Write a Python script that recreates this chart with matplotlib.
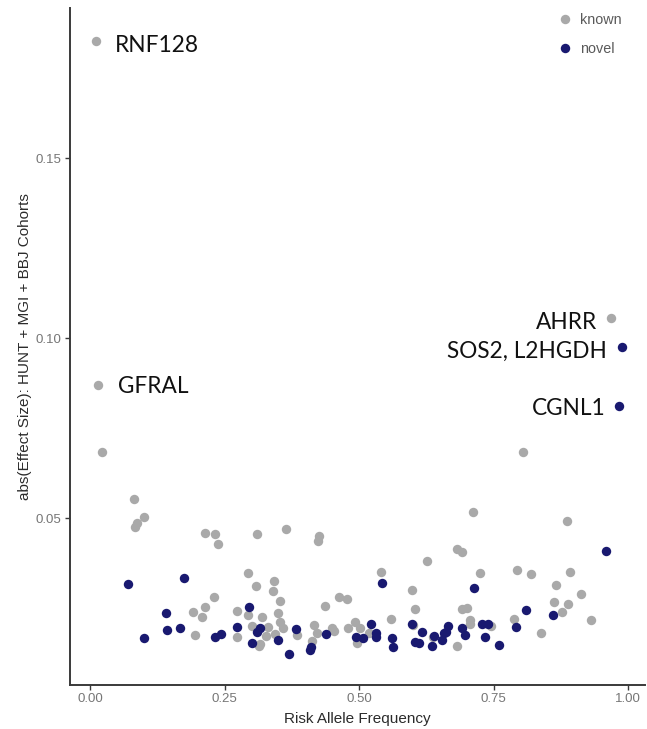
import matplotlib
matplotlib.use("Agg")
import matplotlib.pyplot as plt
from matplotlib.lines import Line2D

# Risk allele frequency vs absolute effect size, split by known / novel loci
known_raf = [0.012, 0.014, 0.022, 0.082, 0.101, 0.087, 0.084, 0.214, 0.232, 0.237,
             0.311, 0.364, 0.426, 0.424, 0.294, 0.309, 0.231, 0.213, 0.191, 0.209,
             0.273, 0.293, 0.302, 0.196, 0.273, 0.315, 0.342, 0.341, 0.354, 0.463,
             0.478, 0.437, 0.540, 0.626, 0.598, 0.604, 0.559, 0.320, 0.349, 0.353,
             0.359, 0.331, 0.328, 0.344, 0.316, 0.384, 0.416, 0.421, 0.412, 0.449,
             0.454, 0.480, 0.493, 0.502, 0.496, 0.519, 0.600, 0.638, 0.711, 0.886,
             0.682, 0.691, 0.725, 0.793, 0.819, 0.892, 0.866, 0.913, 0.863, 0.889,
             0.877, 0.931, 0.691, 0.700, 0.706, 0.706, 0.788, 0.838, 0.682, 0.968,
             0.805, 0.745]
known_effect = [0.1827, 0.0870, 0.0683, 0.0553, 0.0504, 0.0486, 0.0477, 0.0458, 0.0456, 0.0428,
                0.0456, 0.0470, 0.0451, 0.0437, 0.0347, 0.0312, 0.0281, 0.0254, 0.0239, 0.0227,
                0.0243, 0.0231, 0.0202, 0.0176, 0.0171, 0.0146, 0.0326, 0.0298, 0.0271, 0.0282,
                0.0275, 0.0256, 0.0350, 0.0381, 0.0301, 0.0247, 0.0219, 0.0227, 0.0236, 0.0213,
                0.0194, 0.0199, 0.0173, 0.0178, 0.0150, 0.0176, 0.0204, 0.0181, 0.0159, 0.0196,
                0.0187, 0.0196, 0.0213, 0.0196, 0.0153, 0.0181, 0.0204, 0.0171, 0.0517, 0.0493,
                0.0414, 0.0406, 0.0347, 0.0356, 0.0344, 0.0352, 0.0315, 0.0289, 0.0268, 0.0261,
                0.0239, 0.0217, 0.0248, 0.0252, 0.0217, 0.0207, 0.0220, 0.0181, 0.0145, 0.1056,
                0.0683, 0.0202]

novel_raf = [0.071, 0.174, 0.141, 0.144, 0.168, 0.101, 0.233, 0.244, 0.273, 0.296,
             0.310, 0.301, 0.316, 0.350, 0.383, 0.370, 0.409, 0.411, 0.439, 0.494,
             0.507, 0.522, 0.532, 0.532, 0.543, 0.561, 0.564, 0.599, 0.604, 0.612,
             0.618, 0.635, 0.640, 0.654, 0.658, 0.666, 0.662, 0.691, 0.697, 0.728,
             0.739, 0.734, 0.760, 0.792, 0.810, 0.860, 0.714, 0.960, 0.988, 0.983]
novel_effect = [0.0317, 0.0335, 0.0236, 0.0190, 0.0194, 0.0168, 0.0171, 0.0180, 0.0199, 0.0253,
                0.0185, 0.0153, 0.0196, 0.0162, 0.0193, 0.0122, 0.0134, 0.0143, 0.0178, 0.0171,
                0.0167, 0.0206, 0.0182, 0.0171, 0.0320, 0.0167, 0.0143, 0.0206, 0.0157, 0.0153,
                0.0183, 0.0145, 0.0174, 0.0162, 0.0182, 0.0202, 0.0185, 0.0194, 0.0176, 0.0206,
                0.0206, 0.0171, 0.0148, 0.0197, 0.0245, 0.0231, 0.0306, 0.0409, 0.0977, 0.0813]

# Highlighted loci: gene label, raf, effect, and which side of the point the text sits
gene_labels = ["RNF128", "GFRAL", "AHRR", "SOS2, L2HGDH", "CGNL1"]
gene_raf = [0.012, 0.014, 0.968, 0.988, 0.983]
gene_effect = [0.1827, 0.0870, 0.1056, 0.0977, 0.0813]
gene_side = ["right", "right", "left", "left", "left"]

x_ticks = [0.00, 0.25, 0.50, 0.75, 1.00]
x_ticklabels = ["0.00", "0.25", "0.50", "0.75", "1.00"]
y_ticks = [0.05, 0.10, 0.15]
y_ticklabels = ["0.05", "0.10", "0.15"]

KNOWN_COLOR = "#A9A9A9"
NOVEL_COLOR = "#191970"
W, H = 647, 729

fig = plt.figure(figsize=(W / 100, H / 100), dpi=100)
ax = fig.add_axes([70 / W, 44 / H, 575 / W, 677 / H])

ax.scatter(known_raf, known_effect, s=46, color=KNOWN_COLOR, linewidths=0, zorder=2)
ax.scatter(novel_raf, novel_effect, s=46, color=NOVEL_COLOR, linewidths=0, zorder=3)

ax.set_xlim(-0.0372, 1.0316)
ax.set_ylim(0.0037, 0.19175)

ax.set_xticks(x_ticks)
ax.set_xticklabels(x_ticklabels)
ax.set_yticks(y_ticks)
ax.set_yticklabels(y_ticklabels)

for side in ("top", "right"):
    ax.spines[side].set_visible(False)
for side in ("left", "bottom"):
    ax.spines[side].set_linewidth(1.4)
    ax.spines[side].set_color("#3a3a3a")

ax.tick_params(axis="both", length=3.5, width=1.0, color="#3a3a3a",
               pad=2.5, labelsize=9.5, labelcolor="#767676")
for lab in ax.get_xticklabels() + ax.get_yticklabels():
    lab.set_fontfamily("Liberation Sans")

ax.set_xlabel("Risk Allele Frequency", fontsize=11, color="#2b2b2b",
              family="Liberation Sans", labelpad=5)
ax.set_ylabel("abs(Effect Size): HUNT + MGI + BBJ Cohorts", fontsize=11,
              color="#2b2b2b", family="Liberation Sans", labelpad=2.5)

# Gene annotations beside their points
offsets = {"RNF128": (13, -8), "GFRAL": (15, -6), "AHRR": (-10, -8),
           "SOS2, L2HGDH": (-10.5, -8), "CGNL1": (-9.5, -7)}
for name, xv, yv, side in zip(gene_labels, gene_raf, gene_effect, gene_side):
    dx, dy = offsets[name]
    ax.annotate(name, (xv, yv), xytext=(dx, dy), textcoords="offset points",
                ha="left" if side == "right" else "right", va="baseline",
                fontsize=16.3, family="Lato", color="#111111")

handles = [
    Line2D([], [], marker="o", linestyle="", markersize=6.8,
           markerfacecolor=KNOWN_COLOR, markeredgewidth=0, label="known"),
    Line2D([], [], marker="o", linestyle="", markersize=6.8,
           markerfacecolor=NOVEL_COLOR, markeredgewidth=0, label="novel"),
]
leg = fig.legend(handles=handles, loc="upper left",
                 bbox_to_anchor=(557.8 / W, (H - 13.0) / H),
                 bbox_transform=fig.transFigure, frameon=False,
                 prop={"family": "Liberation Sans", "size": 10.4},
                 labelcolor="#5a5a5a", handlelength=1.0, handletextpad=0.55,
                 labelspacing=1.05, borderpad=0, borderaxespad=0)

fig.savefig("out.png", dpi=100)
